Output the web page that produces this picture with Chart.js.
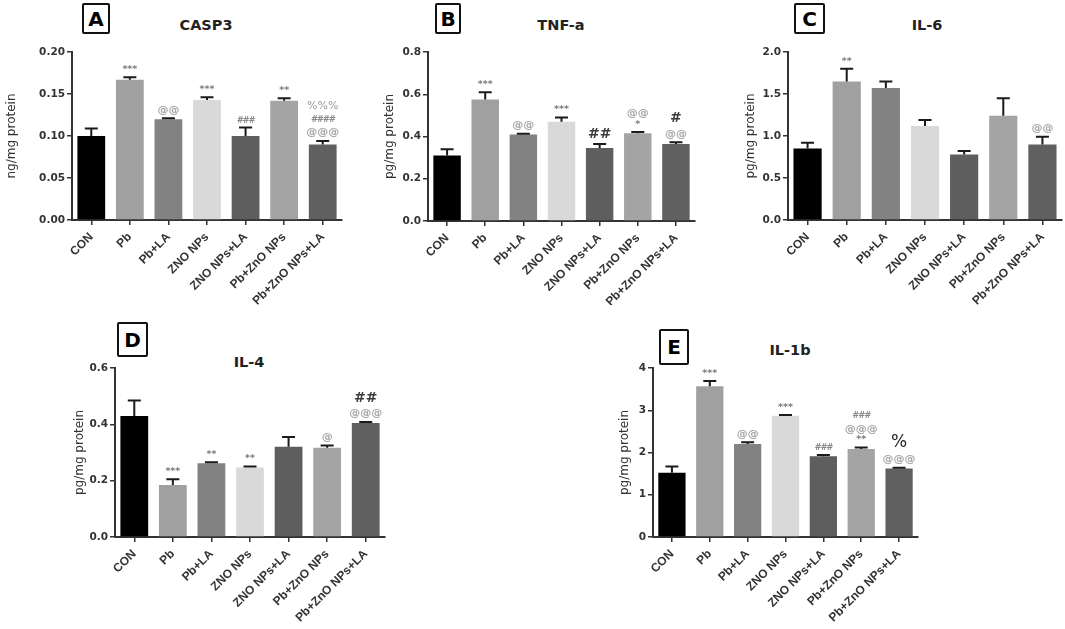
<!DOCTYPE html>
<html>
<head>
<meta charset="utf-8">
<script src="https://cdn.jsdelivr.net/npm/chart.js@4.4.1/dist/chart.umd.min.js"></script>
<style>
body { margin: 0; background: #fff; width: 1065px; height: 629px; position: relative; overflow: hidden; font-family: "DejaVu Sans", sans-serif; }
.panel { position: absolute; }
.tag { position: absolute; border: 2px solid #111; border-radius: 2px; box-sizing: border-box; font: bold 20px "DejaVu Sans"; color: #000; display: flex; align-items: center; justify-content: center; }
.ttl { position: absolute; font: bold 14.5px "DejaVu Sans"; color: #222; transform: translate(-50%, -50%); white-space: nowrap; }
</style>
</head>
<body>

<div class="tag" style="left:82px;top:3px;width:28px;height:31px">A</div>
<div class="ttl" style="left:206px;top:25px">CASP3</div>
<div class="tag" style="left:435px;top:3px;width:26px;height:31px">B</div>
<div class="ttl" style="left:561px;top:25px">TNF-a</div>
<div class="tag" style="left:794px;top:3px;width:31px;height:31px">C</div>
<div class="ttl" style="left:927px;top:25px">IL-6</div>
<div class="tag" style="left:117px;top:322px;width:31px;height:35px">D</div>
<div class="ttl" style="left:249px;top:362px">IL-4</div>
<div class="tag" style="left:659px;top:329px;width:30px;height:36px">E</div>
<div class="ttl" style="left:790px;top:350px">IL-1b</div>

<script>
// groups shared by every panel
const groups = ['CON', 'Pb', 'Pb+LA', 'ZNO NPs', 'ZNO NPs+LA', 'Pb+ZnO NPs', 'Pb+ZnO NPs+LA'];
const barColors = ['#000000', '#a0a0a0', '#828282', '#d9d9d9', '#5e5e5e', '#a4a4a4', '#606060'];

// A - CASP3
const casp3Mean = [0.100, 0.167, 0.120, 0.143, 0.100, 0.142, 0.090];
const casp3Sem = [0.009, 0.003, 0.001, 0.003, 0.010, 0.003, 0.004];
const casp3Ticks = ['0.00', '0.05', '0.10', '0.15', '0.20'];
const casp3Marks = [[], ['***'], ['@@'], ['***'], ['###'], ['**'], ['@@@', '####', '%%%']];

// B - TNF-a
const tnfMean = [0.31, 0.575, 0.41, 0.47, 0.345, 0.415, 0.365];
const tnfSem = [0.03, 0.035, 0.003, 0.02, 0.02, 0.006, 0.008];
const tnfTicks = ['0.0', '0.2', '0.4', '0.6', '0.8'];
const tnfMarks = [[], ['***'], ['@@'], ['***'], ['##'], ['*', '@@'], ['@@', '#']];

// C - IL-6
const il6Mean = [0.85, 1.65, 1.57, 1.12, 0.78, 1.24, 0.90];
const il6Sem = [0.07, 0.15, 0.08, 0.07, 0.04, 0.21, 0.09];
const il6Ticks = ['0.0', '0.5', '1.0', '1.5', '2.0'];
const il6Marks = [[], ['**'], [], [], [], [], ['@@']];

// D - IL-4
const il4Mean = [0.43, 0.185, 0.262, 0.247, 0.32, 0.317, 0.405];
const il4Sem = [0.055, 0.02, 0.003, 0.003, 0.035, 0.008, 0.003];
const il4Ticks = ['0.0', '0.2', '0.4', '0.6'];
const il4Marks = [[], ['***'], ['**'], ['**'], [], ['@'], ['@@@', '##']];

// E - IL-1b
const il1bMean = [1.52, 3.57, 2.20, 2.87, 1.91, 2.08, 1.62];
const il1bSem = [0.15, 0.12, 0.04, 0.02, 0.03, 0.04, 0.02];
const il1bTicks = ['0', '1', '2', '3', '4'];
const il1bMarks = [[], ['***'], ['@@'], ['***'], ['###'], ['**', '@@@', '###'], ['@@@', '%']];

function markStyle(m, big) {
    const c = m[0];
    if (c === '*') return { font: 'bold 9.5px "DejaVu Sans"', color: '#7a7a7a', step: 10 };
    if (c === '@') return { font: 'bold 11px "DejaVu Sans"', color: '#a8a8a8', step: 14 };
    if (c === '#') {
        if (big === '#') return { font: 'bold 14px "DejaVu Sans"', color: '#3a3a3a', step: 17 };
        return { font: 'italic bold 8.5px "DejaVu Sans"', color: '#8a8a8a', step: 12 };
    }
    if (big === '%') return { font: '17px "DejaVu Sans"', color: '#222', step: 19 };
    return { font: '11px "DejaVu Sans"', color: '#999', step: 13 };
}

// upper error bar + significance marks above each bar
const errorBars = {
    id: 'errorBars',
    afterDatasetsDraw(chart) {
        const ds = chart.data.datasets[0];
        const meta = chart.getDatasetMeta(0);
        const y = chart.scales.y;
        const ctx = chart.ctx;
        ctx.save();
        meta.data.forEach((bar, i) => {
            const top = y.getPixelForValue(ds.data[i] + ds.sem[i]);
            ctx.strokeStyle = '#1a1a1a';
            ctx.lineWidth = 2;
            ctx.beginPath();
            ctx.moveTo(bar.x, bar.y);
            ctx.lineTo(bar.x, top);
            ctx.moveTo(bar.x - 6.5, top);
            ctx.lineTo(bar.x + 6.5, top);
            ctx.stroke();

            let ty = top - 3;
            ds.marks[i].forEach(m => {
                const st = markStyle(m, ds.big);
                ctx.font = st.font;
                ctx.fillStyle = st.color;
                ctx.textAlign = 'center';
                ctx.textBaseline = 'bottom';
                ctx.fillText(m, bar.x, ty);
                ty -= st.step;
            });
        });
        ctx.restore();
    }
};

const panels = [
    { mean: casp3Mean, sem: casp3Sem, ticks: casp3Ticks, marks: casp3Marks, yTitle: 'ng/mg protein', big: '',
      box: [0, 0, 348, 305], pad: [3, 52, 6], yw: 69, xh: 85 },
    { mean: tnfMean, sem: tnfSem, ticks: tnfTicks, marks: tnfMarks, yTitle: 'pg/mg protein', big: '#',
      box: [380, 0, 320, 305], pad: [1, 52, 5], yw: 47, xh: 84 },
    { mean: il6Mean, sem: il6Sem, ticks: il6Ticks, marks: il6Marks, yTitle: 'pg/mg protein', big: '',
      box: [741, 0, 324, 305], pad: [1, 52, 3], yw: 46, xh: 85 },
    { mean: il4Mean, sem: il4Sem, ticks: il4Ticks, marks: il4Marks, yTitle: 'pg/mg protein', big: '#',
      box: [70, 315, 320, 314], pad: [1, 53, 5], yw: 44, xh: 92 },
    { mean: il1bMean, sem: il1bSem, ticks: il1bTicks, marks: il1bMarks, yTitle: 'pg/mg protein', big: '%',
      box: [615, 315, 308, 314], pad: [1, 53, 5], yw: 37, xh: 92 }
];

panels.forEach(p => {
    const div = document.createElement('div');
    div.className = 'panel';
    div.style.left = p.box[0] + 'px';
    div.style.top = p.box[1] + 'px';
    div.style.width = p.box[2] + 'px';
    div.style.height = p.box[3] + 'px';
    const cv = document.createElement('canvas');
    div.appendChild(cv);
    document.body.appendChild(div);

    const tickVals = p.ticks.map(t => parseFloat(t));

    new Chart(cv, {
        type: 'bar',
        data: {
            labels: groups,
            datasets: [{
                data: p.mean,
                sem: p.sem,
                marks: p.marks,
                big: p.big,
                backgroundColor: barColors,
                borderWidth: 0,
                barPercentage: 0.72,
                categoryPercentage: 1
            }]
        },
        options: {
            responsive: true,
            maintainAspectRatio: false,
            animation: false,
            devicePixelRatio: 1,
            layout: { padding: { left: p.pad[0], top: p.pad[1], right: p.pad[2], bottom: 0 } },
            plugins: { legend: { display: false }, tooltip: { enabled: false } },
            scales: {
                x: {
                    grid: { display: true, drawOnChartArea: false, offset: false, tickLength: 5, color: '#333', lineWidth: 1.5 },
                    border: { display: true, color: '#333', width: 2 },
                    ticks: { autoSkip: false, minRotation: 45, maxRotation: 45, color: '#333', font: { family: 'Liberation Sans', weight: 'bold', size: 12 }, padding: 5 },
                    afterFit: s => { s.height = p.xh; s.paddingLeft = 0; s.paddingRight = 0; }
                },
                y: {
                    min: tickVals[0],
                    max: tickVals[tickVals.length - 1],
                    afterBuildTicks: s => { s.ticks = tickVals.map(v => ({ value: v })); },
                    grid: { display: true, drawOnChartArea: false, tickLength: 5, color: '#333', lineWidth: 1.5 },
                    border: { display: true, color: '#333', width: 2 },
                    ticks: { color: '#333', font: { family: 'DejaVu Sans', weight: 'bold', size: 10.5 }, padding: 2, callback: (v, i) => p.ticks[i] },
                    title: { display: true, text: p.yTitle, color: '#333', font: { family: 'DejaVu Sans', size: 12 }, padding: { top: 2, bottom: 2 } },
                    afterFit: s => { s.width = p.yw; s.paddingTop = 0; s.paddingBottom = 0; }
                }
            }
        },
        plugins: [errorBars]
    });
});
</script>
</body>
</html>
